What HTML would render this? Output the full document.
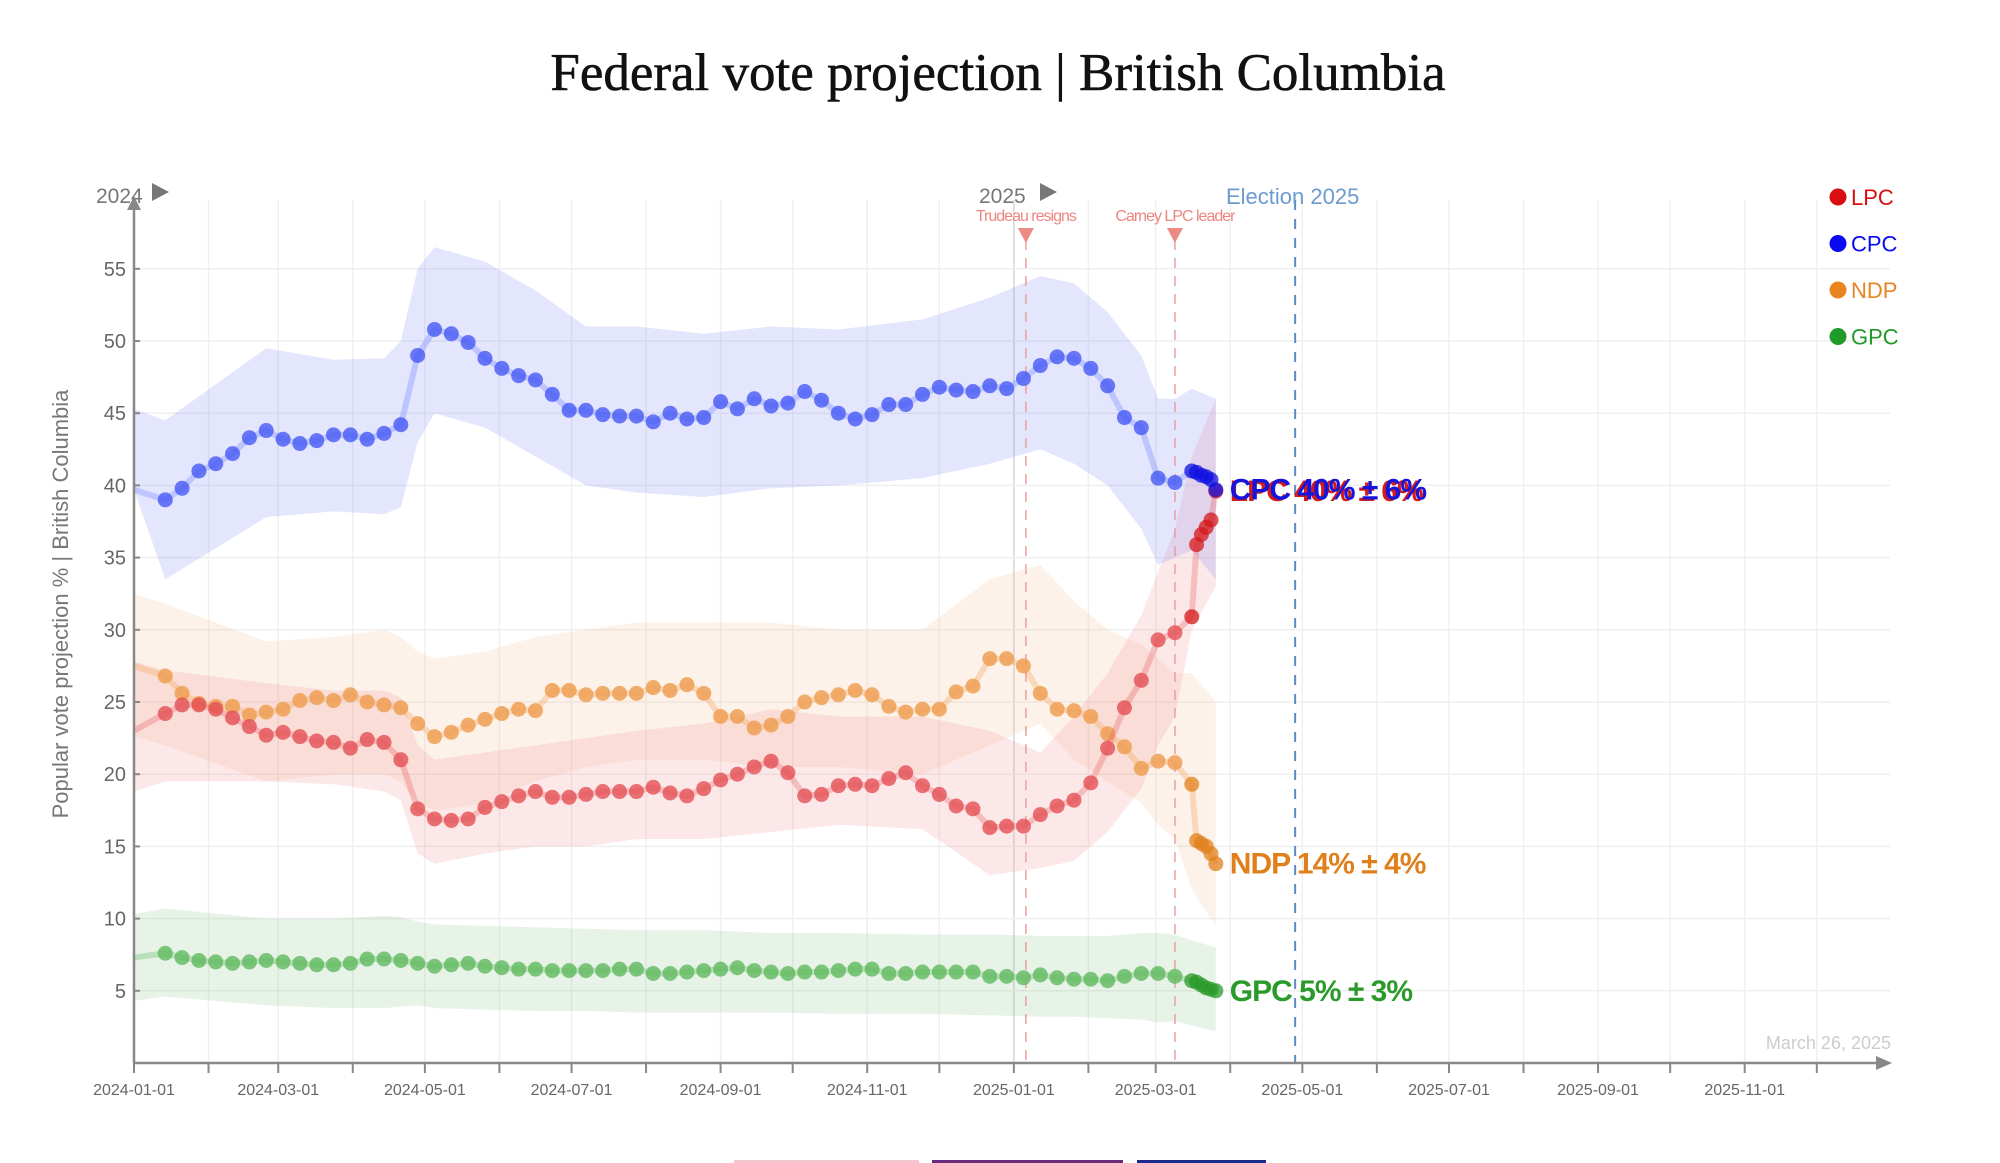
<!DOCTYPE html>
<html><head><meta charset="utf-8"><style>
body{margin:0;background:#fff;width:2000px;height:1163px;overflow:hidden;font-family:"Liberation Sans",sans-serif}
svg{display:block}
</style></head><body>
<svg id="chart" width="2000" height="1163" xmlns="http://www.w3.org/2000/svg">
<text x="998" y="90" text-anchor="middle" font-family="Liberation Serif, serif" font-size="53" fill="#111" stroke="#111" stroke-width="0.6">Federal vote projection | British Columbia</text>
<g id="grid"></g><g id="bands"></g><g id="events"></g><g id="series"></g><g id="axes"></g><g id="labels"></g>
</svg>
<script>
const tickValues=[5,10,15,20,25,30,35,40,45,50,55];
const xTickLabels=["2024-01-01","2024-03-01","2024-05-01","2024-07-01","2024-09-01","2024-11-01","2025-01-01","2025-03-01","2025-05-01","2025-07-01","2025-09-01","2025-11-01"];
const dates=["2024-01-01","2024-01-14","2024-01-21","2024-01-28","2024-02-04","2024-02-11","2024-02-18","2024-02-25","2024-03-03","2024-03-10","2024-03-17","2024-03-24","2024-03-31","2024-04-07","2024-04-14","2024-04-21","2024-04-28","2024-05-05","2024-05-12","2024-05-19","2024-05-26","2024-06-02","2024-06-09","2024-06-16","2024-06-23","2024-06-30","2024-07-07","2024-07-14","2024-07-21","2024-07-28","2024-08-04","2024-08-11","2024-08-18","2024-08-25","2024-09-01","2024-09-08","2024-09-15","2024-09-22","2024-09-29","2024-10-06","2024-10-13","2024-10-20","2024-10-27","2024-11-03","2024-11-10","2024-11-17","2024-11-24","2024-12-01","2024-12-08","2024-12-15","2024-12-22","2024-12-29","2025-01-05","2025-01-12","2025-01-19","2025-01-26","2025-02-02","2025-02-09","2025-02-16","2025-02-23","2025-03-02","2025-03-09","2025-03-16","2025-03-18","2025-03-20","2025-03-22","2025-03-24","2025-03-26"];
const cpc=[39.7,39,39.8,41,41.5,42.2,43.3,43.8,43.2,42.9,43.1,43.5,43.5,43.2,43.6,44.2,49,50.8,50.5,49.9,48.8,48.1,47.6,47.3,46.3,45.2,45.2,44.9,44.8,44.8,44.4,45,44.6,44.7,45.8,45.3,46,45.5,45.7,46.5,45.9,45,44.6,44.9,45.6,45.6,46.3,46.8,46.6,46.5,46.9,46.7,47.4,48.3,48.9,48.8,48.1,46.9,44.7,44,40.5,40.2,41,40.9,40.7,40.6,40.4,39.7];
const lpc=[23,24.2,24.8,24.8,24.5,23.9,23.3,22.7,22.9,22.6,22.3,22.2,21.8,22.4,22.2,21,17.6,16.9,16.8,16.9,17.7,18.1,18.5,18.8,18.4,18.4,18.6,18.8,18.8,18.8,19.1,18.7,18.5,19,19.6,20,20.5,20.9,20.1,18.5,18.6,19.2,19.3,19.2,19.7,20.1,19.2,18.6,17.8,17.6,16.3,16.4,16.4,17.2,17.8,18.2,19.4,21.8,24.6,26.5,29.3,29.8,30.9,35.9,36.6,37.1,37.6,39.6];
const ndp=[27.5,26.8,25.6,24.9,24.7,24.7,24.1,24.3,24.5,25.1,25.3,25.1,25.5,25,24.8,24.6,23.5,22.6,22.9,23.4,23.8,24.2,24.5,24.4,25.8,25.8,25.5,25.6,25.6,25.6,26,25.8,26.2,25.6,24,24,23.2,23.4,24,25,25.3,25.5,25.8,25.5,24.7,24.3,24.5,24.5,25.7,26.1,28,28,27.5,25.6,24.5,24.4,24,22.8,21.9,20.4,20.9,20.8,19.3,15.4,15.2,15,14.5,13.8];
const gpc=[7.3,7.6,7.3,7.1,7,6.9,7,7.1,7,6.9,6.8,6.8,6.9,7.2,7.2,7.1,6.9,6.7,6.8,6.9,6.7,6.6,6.5,6.5,6.4,6.4,6.4,6.4,6.5,6.5,6.2,6.2,6.3,6.4,6.5,6.6,6.4,6.3,6.2,6.3,6.3,6.4,6.5,6.5,6.2,6.2,6.3,6.3,6.3,6.3,6,6,5.9,6.1,5.9,5.8,5.8,5.7,6,6.2,6.2,6,5.7,5.6,5.4,5.2,5.1,5];
const bandDates=["2024-01-01","2024-01-14","2024-02-25","2024-03-24","2024-04-14","2024-04-21","2024-04-28","2024-05-05","2024-05-26","2024-06-16","2024-07-07","2024-07-28","2024-08-25","2024-09-22","2024-10-20","2024-11-24","2024-12-22","2025-01-12","2025-01-26","2025-02-09","2025-02-23","2025-03-02","2025-03-09","2025-03-16","2025-03-26"];
const cpcHi=[45.3,44.5,49.5,48.7,48.8,50,55,56.5,55.5,53.5,51,51,50.5,51,50.8,51.5,53,54.5,54,52,49,46,46,46.7,46];
const cpcLo=[39.7,33.5,37.8,38.2,38,38.5,43,45,44,42,40,39.5,39.2,39.8,40,40.5,41.5,42.5,41.5,40,37,34.5,35,35.5,33.5];
const lpcHi=[27.8,27.2,26.3,25.8,25.8,25.3,22,21,21.5,22,22.5,23,23.5,24.5,24,24,23,21.5,24,27,31,34,37,42,46];
const lpcLo=[18.8,19.5,19.5,19.3,18.8,18.2,14.5,13.8,14.5,15,15,15.5,15.5,16,16.5,16.2,13,13.5,14,16,19,22,24,30,33];
const ndpHi=[32.5,31.8,29.2,29.5,30,29.5,28.5,28,28.5,29.5,30,30.5,30.5,30.5,30,30,33.5,34.5,32,30,29,28,27,27,25];
const ndpLo=[22.6,22,19.5,20,20,19.5,18,17.5,18,19.5,20.5,21,21,20.5,20.5,20,22,23.5,21,19.5,18,16.5,15.5,12,9.5];
const gpcHi=[10.3,10.7,10,10,10.2,10.1,9.8,9.6,9.5,9.4,9.3,9.2,9.2,9,9,8.9,8.9,8.8,8.8,8.8,9,9,8.9,8.5,8];
const gpcLo=[4.3,4.6,4,3.8,3.8,3.9,4,3.8,3.7,3.6,3.6,3.5,3.5,3.5,3.4,3.4,3.3,3.2,3.2,3.1,3,2.8,2.9,2.6,2.2];
const finalLabels=["LPC 40% ± 6%","CPC 40% ± 6%","NDP 14% ± 4%","GPC 5% ± 3%"];
const eventDates=["2025-01-06","2025-03-09"];
const eventNames=["Trudeau resigns","Carney LPC leader"];
const electionDate="2025-04-28";

const NS="http://www.w3.org/2000/svg";
const T0=Date.UTC(2024,0,1);
function day(s){const p=s.split("-");return (Date.UTC(+p[0],+p[1]-1,+p[2])-T0)/864e5;}
function X(s){return 134+day(s)*2.404;}
function Y(v){return 1063-v*14.44;}
function mk(parent,tag,attrs,text){const e=document.createElementNS(NS,tag);for(const k in attrs)e.setAttribute(k,attrs[k]);if(text!==undefined)e.textContent=text;document.getElementById(parent).appendChild(e);return e;}

for(let y=2024;y<=2025;y++)for(let m=1;m<=12;m++){
  const s=y+"-"+String(m).padStart(2,"0")+"-01";const x=X(s);
  const g=mk("grid","line",{x1:x,x2:x,y1:200,y2:1063,stroke:(s==="2025-01-01")?"#d8d8d8":"#f0f0f0","stroke-width":1.5});
  
  
  const t=mk("axes","line",{x1:x,x2:x,y1:1063,y2:1073,stroke:"#888","stroke-width":2});
  
  
}
tickValues.forEach(v=>{
  const g=mk("grid","line",{x1:134,x2:1890,y1:Y(v),y2:Y(v),stroke:"#efefef","stroke-width":1.5});
  
  
  const tk=mk("axes","line",{x1:134,x2:140,y1:Y(v),y2:Y(v),stroke:"#888","stroke-width":2});
  
  
  const t=mk("axes","text",{x:126,y:Y(v)+7,"text-anchor":"end","font-size":20,fill:"#666"},String(v));
  
  
});
xTickLabels.forEach(s=>{
  const t=mk("axes","text",{x:X(s),y:1095,"text-anchor":"middle","font-size":16,fill:"#666"},s);
  
  
});
let a=mk("axes","line",{x1:134,x2:134,y1:205,y2:1063,stroke:"#888","stroke-width":2.5});


a=mk("axes","polygon",{points:"127,210 134,196 141,210",fill:"#888"});


a=mk("axes","line",{x1:134,x2:1880,y1:1063,y2:1063,stroke:"#888","stroke-width":2.5});


a=mk("axes","polygon",{points:"1876,1056 1892,1063 1876,1070",fill:"#888"});


a=mk("axes","text",{x:68,y:604,"text-anchor":"middle","font-size":22,fill:"#777",transform:"rotate(-90 68 604)"},"Popular vote projection % | British Columbia");


a=mk("axes","text",{x:1891,y:1049,"text-anchor":"end","font-size":18,fill:"#ccc"},"March 26, 2025");


[["2024",96,152],["2025",979,1040]].forEach(r=>{
  const t=mk("events","text",{x:r[1],y:203,"font-size":21,fill:"#777"},r[0]);
  
  
  const p=mk("events","polygon",{points:(r[2])+",183 "+(r[2]+17)+",192 "+(r[2])+",201",fill:"#777"});
  
  
});
eventDates.forEach((s,i)=>{
  const x=X(s);
  const l=mk("events","line",{x1:x,x2:x,y1:240,y2:1063,stroke:"#e9a0a0","stroke-width":1.5,"stroke-dasharray":"10,8"});
  
  
  const p=mk("events","polygon",{points:(x-8)+",228 "+(x+8)+",228 "+x+",243",fill:"#ee8a85"});
  
  
  const t=mk("events","text",{x:x,y:221,"text-anchor":"middle","font-size":16,fill:"#ec8580","letter-spacing":"-1"},eventNames[i]);
  
  
});
{const x=X(electionDate);
const l=mk("events","line",{x1:x,x2:x,y1:200,y2:1063,stroke:"#5b8cc4","stroke-width":2,"stroke-dasharray":"10,9"});


const t=mk("events","text",{x:1226,y:204,"font-size":22,fill:"#6b9bd0"},"Election 2025");

}
const parties=[
 {n:"gpc",v:gpc,hi:gpcHi,lo:gpcLo,band:"rgba(110,180,110,0.16)",line:"rgba(100,190,100,0.35)",dot:"rgba(95,185,95,0.8)",txt:"#2a9a2a"},
 {n:"ndp",v:ndp,hi:ndpHi,lo:ndpLo,band:"rgba(245,175,120,0.16)",line:"rgba(240,165,95,0.35)",dot:"rgba(238,160,85,0.85)",txt:"#e0801c"},
 {n:"lpc",v:lpc,hi:lpcHi,lo:lpcLo,band:"rgba(240,130,130,0.18)",line:"rgba(232,90,95,0.3)",dot:"rgba(228,80,85,0.8)",txt:"#d41a1a"},
 {n:"cpc",v:cpc,hi:cpcHi,lo:cpcLo,band:"rgba(120,130,250,0.2)",line:"rgba(100,120,255,0.3)",dot:"rgba(70,90,245,0.8)",txt:"#1010e0"}];
parties.forEach(p=>{
  let pts=bandDates.map((s,i)=>X(s)+","+Y(p.hi[i]));
  for(let i=bandDates.length-1;i>=0;i--)pts.push(X(bandDates[i])+","+Y(p.lo[i]));
  const b=mk("bands","polygon",{points:pts.join(" "),fill:p.band,"stroke-linejoin":"round"});
  
  
  const l=mk("series","polyline",{points:dates.map((s,i)=>X(s)+","+Y(p.v[i])).join(" "),fill:"none",stroke:p.line,"stroke-width":6,"stroke-linejoin":"round"});
  
  
  dates.forEach((s,i)=>{if(i===0)return;
    const c=mk("series","circle",{cx:X(s),cy:Y(p.v[i]),r:7.5,fill:i>=62?p.txt:p.dot,"fill-opacity":i>=62?0.75:1});
    
    
  });
});
const lastX=X(dates[dates.length-1])+14;
[[lpc,"#d41a1a",finalLabels[0]],[cpc,"#1414dd",finalLabels[1]],[ndp,"#e0801c",finalLabels[2]],[gpc,"#2a9a2a",finalLabels[3]]].forEach(r=>{
  const v=r[0][r[0].length-1];
  const t=mk("labels","text",{x:lastX,y:Y(v)+10,"font-size":30,"font-weight":"bold",fill:r[1],"letter-spacing":"-1"},r[2]);
  
  
});
[["LPC","#d90f0f"],["CPC","#0a0af0"],["NDP","#e8851f"],["GPC","#229a2a"]].forEach((r,i)=>{
  const y=197+i*46.5;
  const c=mk("labels","circle",{cx:1838,cy:y,r:8.5,fill:r[1]});
  
  
  const t=mk("labels","text",{x:1851,y:y+8,"font-size":22,fill:r[1]},r[0]);
  
  
});
[[734,185,"#f4c6d0"],[932,191,"#6a2a7a"],[1137,129,"#1c2a8a"]].forEach(r=>{
  const b=mk("labels","rect",{x:r[0],y:1160,width:r[1],height:3,fill:r[2]});
  
  
});
</script>
</body></html>
